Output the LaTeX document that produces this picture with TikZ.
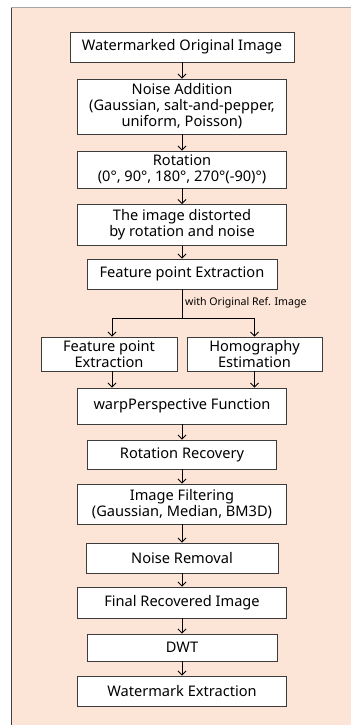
\documentclass[tikz,border=0pt]{standalone}
\usepackage{fontspec}
\setmainfont{Noto Sans}
\usetikzlibrary{arrows.meta}
\definecolor{panelpeach}{RGB}{252,228,214}
\definecolor{boxgray}{RGB}{60,60,60}
\begin{document}
\begin{tikzpicture}[x=1pt,y=-1pt,
    stage/.style={draw=boxgray,fill=white,line width=0.9pt,align=center,
      inner sep=0pt,font=\fontsize{14.6}{16}\selectfont},
    flow/.style={-{Straight Barb[length=4pt,width=8pt]},line width=0.9pt}]
   \useasboundingbox (0,0) rectangle (351,725);
   % background panel
   \fill[panelpeach] (11,8) rectangle (351,725);
   \draw[gray!70,line width=1pt] (11,8) -- (351,8);
   \draw[black!75,line width=1pt] (11,8) -- (11,725);
   % main column
   \node[stage,minimum width=224pt,minimum height=30pt] (wmimg) at (182,47) {Watermarked Original Image};
   \node[stage,minimum width=209pt,minimum height=55pt] (noise) at (182,106.5) {Noise Addition\\(Gaussian, salt-and-pepper,\\uniform, Poisson)};
   \node[stage,minimum width=209pt,minimum height=37pt] (rot) at (182,169.5) {Rotation\\(0°, 90°, 180°, 270°(-90)°)};
   \node[stage,minimum width=209pt,minimum height=41pt] (distort) at (182,225) {The image distorted\\by rotation and noise};
   \node[stage,minimum width=190pt,minimum height=30pt] (feat) at (182,274) {Feature point Extraction};
   % two branches
   \node[stage,minimum width=136pt,minimum height=34pt] (featref) at (109,354) {Feature point\\Extraction};
   \node[stage,minimum width=135pt,minimum height=34pt] (homog) at (254.5,354) {Homography\\Estimation};
   \node[stage,minimum width=209pt,minimum height=36pt] (warp) at (182,406) {warpPerspective Function};
   \node[stage,minimum width=189pt,minimum height=29pt] (rotrec) at (182,454.5) {Rotation Recovery};
   \node[stage,minimum width=209pt,minimum height=40pt] (filt) at (182,504) {Image Filtering\\(Gaussian, Median, BM3D)};
   \node[stage,minimum width=192pt,minimum height=30pt] (denoise) at (182,558) {Noise Removal};
   \node[stage,minimum width=209pt,minimum height=31pt] (final) at (182,602.5) {Final Recovered Image};
   \node[stage,minimum width=190pt,minimum height=27pt] (dwt) at (182,647.5) {DWT};
   \node[stage,minimum width=209pt,minimum height=30pt] (wmext) at (182,691) {Watermark Extraction};
   % arrows
   \draw[flow] (wmimg) -- (noise);
   \draw[flow] (noise) -- (rot);
   \draw[flow] (rot) -- (distort);
   \draw[flow] (distort) -- (feat);
   \coordinate (fork) at (182,318);
   \draw[line width=0.9pt] (feat) -- (fork);
   \node[anchor=west,inner sep=0pt,font=\fontsize{10.6}{12}\selectfont] (withref) at (185,303) {with Original Ref. Image};
   \draw[flow] (fork) -| ([xshift=3pt]featref.north);
   \draw[flow] (fork) -| (homog.north);
   \draw[flow] ([xshift=3pt]featref.south) -- ([xshift=3pt]featref.south |- warp.north);
   \draw[flow] (homog.south) -- (homog.south |- warp.north);
   \draw[flow] (warp) -- (rotrec);
   \draw[flow] (rotrec) -- (filt);
   \draw[flow] (filt) -- (denoise);
   \draw[flow] (denoise) -- (final);
   \draw[flow] (final) -- (dwt);
   \draw[flow] (dwt) -- (wmext);
\end{tikzpicture}
\end{document}
